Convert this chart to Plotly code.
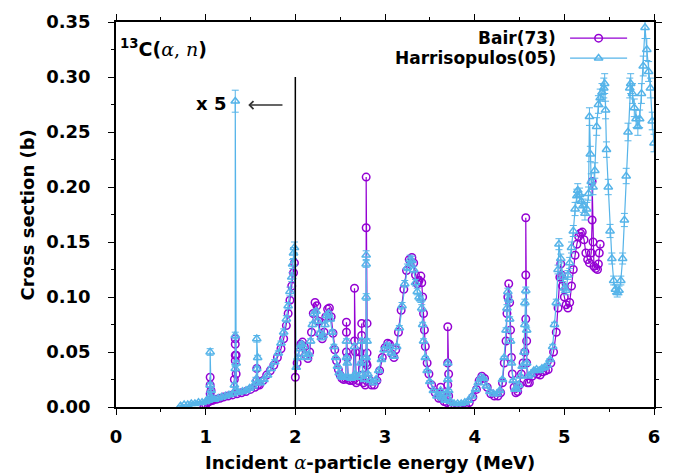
import plotly.graph_objects as go

# ---------------- data ----------------
bair_energy = [
    0.98, 1.00, 1.02, 1.04, 1.05, 1.05, 1.05, 1.06, 1.06, 1.08,
    1.12, 1.16, 1.20, 1.25, 1.30, 1.32, 1.33, 1.33, 1.33, 1.33,
    1.34, 1.34, 1.35, 1.40, 1.45, 1.50, 1.55, 1.57, 1.57, 1.58,
    1.60, 1.64, 1.68, 1.72, 1.76, 1.80, 1.84, 1.87, 1.90, 1.92,
    1.94, 1.96, 1.98, 1.99, 2.00, 2.02, 2.04, 2.06, 2.08, 2.10,
    2.12, 2.14, 2.16, 2.18, 2.20, 2.22, 2.24, 2.26, 2.28, 2.30,
    2.32, 2.34, 2.36, 2.38, 2.40, 2.42, 2.44, 2.46, 2.48, 2.50,
    2.52, 2.54, 2.56, 2.57, 2.57, 2.57, 2.58, 2.59, 2.61, 2.64,
    2.66, 2.66, 2.67, 2.68, 2.70, 2.72, 2.74, 2.74, 2.75, 2.76,
    2.78, 2.79, 2.79, 2.79, 2.80, 2.80, 2.80, 2.82, 2.85, 2.88,
    2.91, 2.94, 2.97, 3.00, 3.03, 3.05, 3.08, 3.10, 3.12, 3.15,
    3.18, 3.21, 3.24, 3.27, 3.30, 3.32, 3.34, 3.36, 3.38, 3.40,
    3.41, 3.42, 3.43, 3.44, 3.45, 3.47, 3.49, 3.52, 3.56, 3.60,
    3.62, 3.62, 3.63, 3.66, 3.69, 3.70, 3.70, 3.70, 3.71, 3.71,
    3.74, 3.78, 3.82, 3.86, 3.90, 3.94, 3.98, 4.02, 4.05, 4.08,
    4.11, 4.14, 4.18, 4.22, 4.26, 4.29, 4.31, 4.33, 4.35, 4.36,
    4.37, 4.38, 4.39, 4.40, 4.41, 4.42, 4.44, 4.46, 4.48, 4.50,
    4.52, 4.54, 4.56, 4.57, 4.57, 4.57, 4.58, 4.58, 4.59, 4.61,
    4.64, 4.67, 4.70, 4.73, 4.76, 4.79, 4.82, 4.85, 4.88, 4.91,
    4.93, 4.95, 4.96, 4.97, 4.98, 5.00, 5.02, 5.04, 5.06, 5.08,
    5.10, 5.12, 5.14, 5.16, 5.18, 5.20, 5.22, 5.24, 5.26, 5.28,
    5.30, 5.31, 5.31, 5.32, 5.33, 5.35, 5.37, 5.38, 5.39, 5.40,
]
bair_xs = [
    0.000, 0.002, 0.004, 0.005, 0.012, 0.020, 0.027, 0.015, 0.006, 0.006,
    0.007, 0.008, 0.009, 0.010, 0.011, 0.025, 0.042, 0.047, 0.057, 0.062,
    0.047, 0.030, 0.012, 0.013, 0.014, 0.016, 0.018, 0.024, 0.035, 0.020,
    0.020, 0.024, 0.029, 0.033, 0.038, 0.045, 0.053, 0.062, 0.074, 0.085,
    0.097, 0.110, 0.122, 0.131, 0.027, 0.040, 0.050, 0.057, 0.059, 0.055,
    0.047, 0.044, 0.050, 0.068, 0.085, 0.095, 0.092, 0.078, 0.066, 0.062,
    0.068, 0.082, 0.089, 0.090, 0.082, 0.067, 0.052, 0.042, 0.034, 0.029,
    0.026, 0.025, 0.026, 0.050, 0.068, 0.077, 0.045, 0.025, 0.024, 0.024,
    0.060, 0.108, 0.050, 0.022, 0.024, 0.050, 0.065, 0.076, 0.035, 0.022,
    0.020, 0.040, 0.163, 0.209, 0.076, 0.049, 0.038, 0.025, 0.020, 0.020,
    0.024, 0.033, 0.045, 0.054, 0.058, 0.057, 0.048, 0.045, 0.052, 0.068,
    0.088, 0.107, 0.124, 0.134, 0.136, 0.131, 0.120, 0.112, 0.115, 0.119,
    0.113, 0.100, 0.085, 0.070, 0.055, 0.040, 0.030, 0.020, 0.013, 0.008,
    0.012, 0.018, 0.008, 0.005, 0.004, 0.020, 0.040, 0.073, 0.030, 0.010,
    0.002, 0.000, 0.000, 0.000, 0.001, 0.004, 0.009, 0.016, 0.024, 0.028,
    0.026, 0.018, 0.012, 0.010, 0.010, 0.013, 0.022, 0.040, 0.060, 0.085,
    0.100, 0.112, 0.095, 0.070, 0.045, 0.030, 0.018, 0.013, 0.014, 0.020,
    0.030, 0.040, 0.050, 0.080, 0.120, 0.172, 0.060, 0.040, 0.022, 0.022,
    0.028, 0.031, 0.030, 0.029, 0.032, 0.033, 0.034, 0.040, 0.050, 0.068,
    0.090, 0.118, 0.130, 0.120, 0.110, 0.100, 0.093, 0.090, 0.095, 0.110,
    0.125, 0.138, 0.148, 0.155, 0.158, 0.159, 0.152, 0.140, 0.134, 0.131,
    0.140, 0.170, 0.205, 0.150, 0.128, 0.126, 0.125, 0.130, 0.140, 0.148,
]

harr_energy = [
    0.72, 0.76, 0.80, 0.84, 0.88, 0.92, 0.96, 1.00, 1.03, 1.05,
    1.05, 1.05, 1.06, 1.07, 1.10, 1.14, 1.18, 1.22, 1.26, 1.30,
    1.32, 1.33, 1.33, 1.33, 1.34, 1.34, 1.37, 1.41, 1.45, 1.49,
    1.53, 1.56, 1.57, 1.57, 1.58, 1.58, 1.61, 1.65, 1.69, 1.73,
    1.77, 1.81, 1.84, 1.87, 1.90, 1.92, 1.94, 1.96, 1.97, 1.98,
    1.99, 2.01, 2.03, 2.05, 2.07, 2.09, 2.11, 2.13, 2.15, 2.17,
    2.19, 2.21, 2.23, 2.25, 2.27, 2.29, 2.31, 2.33, 2.35, 2.37,
    2.39, 2.41, 2.43, 2.45, 2.47, 2.49, 2.51, 2.53, 2.56, 2.57,
    2.57, 2.58, 2.59, 2.62, 2.65, 2.66, 2.67, 2.70, 2.73, 2.74,
    2.75, 2.77, 2.79, 2.79, 2.79, 2.79, 2.80, 2.81, 2.84, 2.87,
    2.90, 2.93, 2.96, 2.99, 3.02, 3.05, 3.07, 3.10, 3.13, 3.16,
    3.19, 3.22, 3.25, 3.28, 3.30, 3.32, 3.34, 3.36, 3.38, 3.40,
    3.41, 3.42, 3.43, 3.45, 3.47, 3.50, 3.54, 3.58, 3.62, 3.62,
    3.64, 3.67, 3.69, 3.70, 3.70, 3.71, 3.73, 3.77, 3.81, 3.85,
    3.89, 3.93, 3.97, 4.01, 4.04, 4.07, 4.10, 4.13, 4.17, 4.21,
    4.25, 4.28, 4.31, 4.33, 4.35, 4.36, 4.37, 4.38, 4.39, 4.40,
    4.41, 4.43, 4.45, 4.47, 4.49, 4.51, 4.53, 4.55, 4.56, 4.56,
    4.57, 4.58, 4.58, 4.60, 4.63, 4.66, 4.69, 4.72, 4.75, 4.78,
    4.81, 4.84, 4.87, 4.89, 4.91, 4.93, 4.94, 4.96, 4.98, 5.00,
    5.02, 5.04, 5.06, 5.08, 5.10, 5.12, 5.14, 5.15, 5.17, 5.19,
    5.21, 5.23, 5.25, 5.27, 5.28, 5.29, 5.30, 5.32, 5.34, 5.36,
    5.38, 5.40, 5.42, 5.44, 5.45, 5.46, 5.47, 5.49, 5.51, 5.53,
    5.55, 5.57, 5.59, 5.61, 5.63, 5.65, 5.67, 5.69, 5.71, 5.73,
    5.74, 5.76, 5.78, 5.80, 5.82, 5.84, 5.86, 5.88, 5.90, 5.92,
    5.94, 5.96, 5.98, 6.00,
]
harr_xs = [
    0.001, 0.002, 0.002, 0.003, 0.003, 0.004, 0.004, 0.005, 0.006, 0.010,
    0.020, 0.050, 0.015, 0.007, 0.007, 0.008, 0.009, 0.010, 0.011, 0.012,
    0.020, 0.035, 0.065, 0.278, 0.040, 0.015, 0.013, 0.014, 0.015, 0.017,
    0.019, 0.025, 0.035, 0.062, 0.045, 0.022, 0.022, 0.025, 0.029, 0.035,
    0.041, 0.049, 0.058, 0.068, 0.080, 0.092, 0.105, 0.118, 0.130, 0.140,
    0.145, 0.036, 0.045, 0.053, 0.057, 0.055, 0.048, 0.045, 0.048, 0.060,
    0.075, 0.085, 0.087, 0.078, 0.067, 0.063, 0.065, 0.075, 0.083, 0.085,
    0.080, 0.068, 0.055, 0.045, 0.037, 0.031, 0.028, 0.027, 0.027, 0.045,
    0.060, 0.040, 0.027, 0.026, 0.028, 0.055, 0.030, 0.027, 0.040, 0.060,
    0.030, 0.025, 0.045, 0.100, 0.130, 0.138, 0.060, 0.030, 0.024, 0.022,
    0.025, 0.033, 0.043, 0.052, 0.056, 0.055, 0.049, 0.046, 0.055, 0.072,
    0.092, 0.112, 0.127, 0.134, 0.133, 0.125, 0.113, 0.105, 0.100, 0.098,
    0.090, 0.075, 0.060, 0.045, 0.033, 0.023, 0.015, 0.010, 0.010, 0.015,
    0.008, 0.006, 0.012, 0.025, 0.040, 0.015, 0.005, 0.003, 0.003, 0.003,
    0.004, 0.006, 0.010, 0.016, 0.022, 0.027, 0.026, 0.019, 0.014, 0.012,
    0.012, 0.015, 0.025, 0.045, 0.070, 0.090, 0.105, 0.098, 0.080, 0.060,
    0.040, 0.024, 0.016, 0.016, 0.020, 0.028, 0.037, 0.050, 0.075, 0.095,
    0.106, 0.070, 0.040, 0.028, 0.030, 0.033, 0.034, 0.033, 0.035, 0.036,
    0.038, 0.043, 0.055, 0.075, 0.095, 0.125, 0.148, 0.135, 0.118, 0.108,
    0.106, 0.120, 0.131, 0.145, 0.160, 0.180, 0.192, 0.197, 0.193, 0.187,
    0.183, 0.176, 0.180, 0.194, 0.264, 0.230, 0.205, 0.200, 0.215, 0.255,
    0.275, 0.281, 0.286, 0.290, 0.294, 0.270, 0.234, 0.200, 0.160, 0.135,
    0.115, 0.107, 0.104, 0.106, 0.115, 0.135, 0.170, 0.210, 0.250, 0.290,
    0.294, 0.285, 0.272, 0.262, 0.255, 0.262, 0.285, 0.310, 0.345, 0.325,
    0.305, 0.290, 0.260, 0.240,
]
harr_err = [
    0.000, 0.000, 0.000, 0.001, 0.001, 0.001, 0.001, 0.001, 0.001, 0.001,
    0.002, 0.003, 0.001, 0.001, 0.001, 0.001, 0.001, 0.001, 0.001, 0.001,
    0.002, 0.002, 0.003, 0.010, 0.002, 0.001, 0.001, 0.001, 0.001, 0.001,
    0.001, 0.002, 0.002, 0.003, 0.002, 0.001, 0.001, 0.001, 0.001, 0.002,
    0.002, 0.002, 0.002, 0.003, 0.003, 0.003, 0.004, 0.004, 0.004, 0.005,
    0.005, 0.001, 0.001, 0.002, 0.002, 0.002, 0.001, 0.001, 0.001, 0.002,
    0.002, 0.002, 0.002, 0.002, 0.002, 0.002, 0.002, 0.002, 0.002, 0.002,
    0.002, 0.002, 0.002, 0.001, 0.001, 0.001, 0.001, 0.001, 0.001, 0.001,
    0.002, 0.001, 0.001, 0.001, 0.001, 0.002, 0.001, 0.001, 0.001, 0.002,
    0.001, 0.001, 0.001, 0.003, 0.003, 0.004, 0.002, 0.001, 0.001, 0.001,
    0.001, 0.001, 0.001, 0.002, 0.002, 0.002, 0.001, 0.001, 0.002, 0.002,
    0.003, 0.003, 0.003, 0.004, 0.004, 0.003, 0.003, 0.003, 0.003, 0.003,
    0.003, 0.002, 0.002, 0.001, 0.001, 0.001, 0.001, 0.001, 0.001, 0.001,
    0.001, 0.001, 0.001, 0.001, 0.001, 0.001, 0.001, 0.001, 0.001, 0.001,
    0.001, 0.001, 0.001, 0.001, 0.001, 0.001, 0.001, 0.001, 0.001, 0.001,
    0.001, 0.001, 0.001, 0.001, 0.002, 0.003, 0.003, 0.003, 0.002, 0.002,
    0.001, 0.001, 0.001, 0.001, 0.001, 0.001, 0.001, 0.002, 0.002, 0.003,
    0.003, 0.002, 0.001, 0.001, 0.001, 0.001, 0.001, 0.001, 0.001, 0.001,
    0.001, 0.001, 0.002, 0.002, 0.003, 0.004, 0.005, 0.004, 0.004, 0.004,
    0.004, 0.004, 0.005, 0.005, 0.005, 0.006, 0.006, 0.006, 0.006, 0.006,
    0.006, 0.006, 0.006, 0.006, 0.008, 0.007, 0.007, 0.007, 0.007, 0.008,
    0.008, 0.008, 0.008, 0.009, 0.009, 0.008, 0.007, 0.007, 0.006, 0.005,
    0.004, 0.004, 0.004, 0.004, 0.004, 0.005, 0.006, 0.007, 0.008, 0.009,
    0.009, 0.009, 0.008, 0.008, 0.008, 0.008, 0.009, 0.009, 0.010, 0.010,
    0.009, 0.009, 0.008, 0.008,
]

series_names = ["Bair(73)", "Harrisopulos(05)"]
x_ticks = [0, 1, 2, 3, 4, 5, 6]
y_ticks = [0.00, 0.05, 0.10, 0.15, 0.20, 0.25, 0.30, 0.35]
scale_boundary = 2.0     # MeV, below which data are multiplied by 5
scale_line_top = 0.30

# ---------------- styles ----------------
PURPLE = "#9400D3"
BLUE = "#56B4E9"
FONT = "DejaVu Sans"

fig = go.Figure()

fig.add_trace(go.Scatter(
    x=bair_energy, y=bair_xs, mode="lines+markers", name=series_names[0],
    line=dict(color=PURPLE, width=1.2),
    marker=dict(symbol="circle-open", size=7.5, color=PURPLE, line=dict(width=1.5)),
    showlegend=False,
))
fig.add_trace(go.Scatter(
    x=harr_energy, y=harr_xs, mode="lines+markers", name=series_names[1],
    line=dict(color=BLUE, width=1.2),
    marker=dict(symbol="triangle-up-open", size=7.5, color=BLUE, line=dict(width=1.5)),
    error_y=dict(type="data", array=harr_err, visible=True, color=BLUE,
                 thickness=1, width=3.5),
    showlegend=False,
))

# custom legend (text left, sample right) on an invisible overlay axis
leg_rows = [(0.958, PURPLE, "circle-open"), (0.906, BLUE, "triangle-up-open")]
for (yy, col, sym), name in zip(leg_rows, series_names):
    fig.add_trace(go.Scatter(
        x=[0.844, 0.897, 0.950], y=[yy, yy, yy], xaxis="x2", yaxis="y2",
        mode="lines", line=dict(color=col, width=1.2), showlegend=False,
        hoverinfo="skip"))
    fig.add_trace(go.Scatter(
        x=[0.897], y=[yy], xaxis="x2", yaxis="y2", mode="markers",
        marker=dict(symbol=sym, size=7.5, color=col, line=dict(width=1.5)),
        showlegend=False, hoverinfo="skip"))
    fig.add_annotation(
        x=0.8216, y=yy, xref="paper", yref="paper", xanchor="right",
        yanchor="middle", showarrow=False, text="<b>%s</b>" % name,
        font=dict(family=FONT, size=17, color="black"))

# vertical separator line at 2 MeV
fig.add_shape(type="line", x0=scale_boundary, x1=scale_boundary, y0=0,
              y1=scale_line_top, xref="x", yref="y",
              line=dict(color="black", width=1.5))

# "x 5" label and arrow
fig.add_annotation(x=1.06, y=0.2755, xref="x", yref="y", text="<b>x 5</b>",
                   showarrow=False, font=dict(family=FONT, size=18, color="black"))
fig.add_annotation(x=1.475, y=0.2745, ax=1.89, ay=0.2745, xref="x", yref="y",
                   axref="x", ayref="y", text=" ", showarrow=True,
                   arrowhead=4, arrowsize=1.1, arrowwidth=1.4, arrowcolor="#333333")

# reaction label
fig.add_annotation(
    x=0.004, y=0.932, xref="paper", yref="paper", xanchor="left", yanchor="middle",
    showarrow=False,
    text=("<b><sup>13</sup>C(</b><span style=\"font-family:DejaVu Serif\"><i>α</i>, "
          "<i>n</i></span><b>)</b>"),
    font=dict(family=FONT, size=19, color="black"))

# axis titles
fig.add_annotation(
    x=0.472, y=-0.145, xref="paper", yref="paper", xanchor="center",
    yanchor="middle", showarrow=False,
    text=("<b>Incident </b><span style=\"font-family:DejaVu Serif\"><i>α</i></span>"
          "<b>-particle energy (MeV)</b>"),
    font=dict(family=FONT, size=18, color="black"))
fig.add_annotation(
    x=-0.1636, y=0.5, xref="paper", yref="paper", xanchor="center",
    yanchor="middle", showarrow=False, textangle=-90,
    text="<b>Cross section (b)</b>",
    font=dict(family=FONT, size=18, color="black"))

axis_common = dict(
    showgrid=False, zeroline=False, showline=True, linecolor="black",
    linewidth=1.5, mirror="allticks", ticks="outside", ticklen=6,
    tickwidth=1.2, tickcolor="black",
    tickfont=dict(family=FONT, size=18, color="black", weight="bold"),
)

fig.update_layout(
    width=675, height=474,
    margin=dict(l=116, r=21, t=22, b=67),
    paper_bgcolor="white", plot_bgcolor="white",
    showlegend=False,
    xaxis=dict(range=[0, 6], tickvals=x_ticks, ticktext=[str(v) for v in x_ticks],
               minor=dict(dtick=0.5, ticks="outside", ticklen=3, tickcolor="black",
                          tickwidth=1.2),
               ticklabelstandoff=7, **axis_common),
    yaxis=dict(range=[0, 0.35], tickvals=y_ticks,
               ticktext=["%.2f" % v for v in y_ticks],
               minor=dict(dtick=0.025, ticks="outside", ticklen=3, tickcolor="black",
                          tickwidth=1.2),
               ticklabelstandoff=14, **axis_common),
    xaxis2=dict(range=[0, 1], overlaying="x", visible=False, fixedrange=True),
    yaxis2=dict(range=[0, 1], overlaying="y", visible=False, fixedrange=True),
)

fig.write_html("out.html")
